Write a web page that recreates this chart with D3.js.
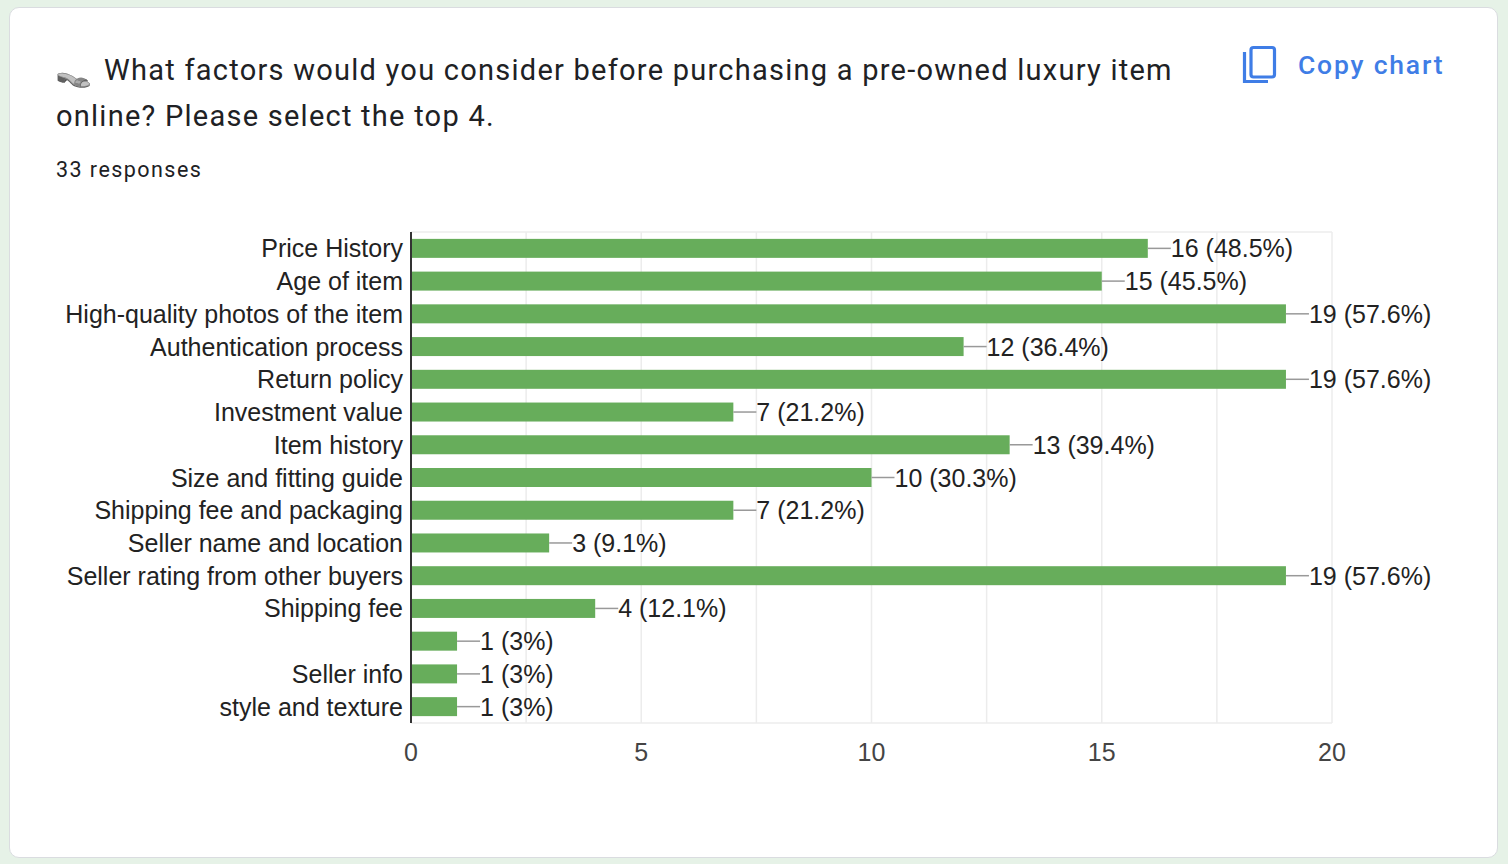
<!DOCTYPE html>
<html lang="en">
<head>
  <meta charset="UTF-8">
  <title>Pre-owned luxury purchase factors</title>
  <script src="https://d3js.org/d3.v7.min.js"></script>
  <style>
    * { padding: 0; margin: 0; box-sizing: border-box; }
    body { background: #e6f2e7; width: 1508px; height: 864px; overflow: hidden; }
    #card {
      position: absolute; left: 9px; top: 7px; width: 1489px; height: 851px;
      background: #fff; border: 1px solid #dadce0; border-radius: 10px;
    }
    #chart { position: absolute; left: 0; top: 0; }
  </style>
</head>
<body>
  <div id="card"></div>
  <svg id="chart" width="1508" height="864"></svg>
  <script>
    const categories = [
      "Price History", "Age of item", "High-quality photos of the item", "Authentication process",
      "Return policy", "Investment value", "Item history", "Size and fitting guide",
      "Shipping fee and packaging", "Seller name and location", "Seller rating from other buyers",
      "Shipping fee", "", "Seller info", "style and texture"
    ];
    const counts = [16, 15, 19, 12, 19, 7, 13, 10, 7, 3, 19, 4, 1, 1, 1];
    const percents = ["48.5%", "45.5%", "57.6%", "36.4%", "57.6%", "21.2%", "39.4%", "30.3%",
      "21.2%", "9.1%", "57.6%", "12.1%", "3%", "3%", "3%"];
    const xTicks = [0, 5, 10, 15, 20];
    const gridTicks = [2.5, 5, 7.5, 10, 12.5, 15, 17.5, 20];

    const svg = d3.select("#chart");
    const plotL = 411, plotR = 1332, plotT = 232, plotB = 723;
    const x = d3.scaleLinear().domain([0, 20]).range([plotL, plotR]);
    const y = d3.scaleBand().domain(d3.range(categories.length)).range([plotT, plotB]).paddingInner(0.42).paddingOuter(0.21);

    // header
    const head = svg.append("g").attr("font-family", "Roboto, 'Noto Sans', sans-serif");
    head.append("text").attr("x", 55).attr("y", 82).attr("font-size", 30).attr("fill", "#202124")
      .style("filter", "grayscale(1) contrast(0.8)").text("👡");
    head.append("text").attr("x", 104).attr("y", 80).attr("font-size", 29).attr("fill", "#202124")
      .attr("letter-spacing", 1.25)
      .text("What factors would you consider before purchasing a pre-owned luxury item");
    head.append("text").attr("x", 56).attr("y", 126).attr("font-size", 29).attr("fill", "#202124")
      .attr("letter-spacing", 1.25)
      .text("online? Please select the top 4.");
    head.append("text").attr("x", 56).attr("y", 177).attr("font-size", 21.5).attr("fill", "#202124")
      .attr("letter-spacing", 1.45).text("33 responses");

    // copy chart button
    const copy = svg.append("g").attr("fill", "none").attr("stroke", "#3f7de6").attr("stroke-width", 3.2);
    copy.append("path").attr("d", "M1244.5,52 V81.5 H1268");
    copy.append("rect").attr("x", 1251).attr("y", 47.5).attr("width", 23.5).attr("height", 29.5).attr("rx", 2.5);
    svg.append("text").attr("x", 1298).attr("y", 74).attr("font-family", "Roboto, sans-serif")
      .attr("font-size", 26.5).attr("font-weight", 500).attr("fill", "#3f7de6").attr("letter-spacing", 1.8)
      .text("Copy chart");

    // grid
    svg.append("g").selectAll("line").data(gridTicks).join("line")
      .attr("x1", d => x(d)).attr("x2", d => x(d)).attr("y1", plotT).attr("y2", plotB)
      .attr("stroke", "#ececec").attr("stroke-width", 1.5);
    svg.append("line").attr("x1", plotL).attr("x2", plotR).attr("y1", plotT).attr("y2", plotT)
      .attr("stroke", "#ececec").attr("stroke-width", 1.5);
    svg.append("line").attr("x1", plotL).attr("x2", plotR).attr("y1", plotB).attr("y2", plotB)
      .attr("stroke", "#ececec").attr("stroke-width", 1.5);

    // bars
    svg.append("g").selectAll("rect").data(counts).join("rect")
      .attr("x", x(0)).attr("y", (d, i) => y(i))
      .attr("width", d => x(d) - x(0)).attr("height", y.bandwidth())
      .attr("fill", "#67ad5b");

    // connectors + value labels
    const lab = svg.append("g").attr("font-family", "Arial, 'Liberation Sans', sans-serif").attr("font-size", 25).attr("fill", "#222");
    lab.selectAll("line").data(counts).join("line")
      .attr("x1", d => x(d)).attr("x2", d => x(d) + 23)
      .attr("y1", (d, i) => y(i) + y.bandwidth() / 2).attr("y2", (d, i) => y(i) + y.bandwidth() / 2)
      .attr("stroke", "#999").attr("stroke-width", 1.5);
    lab.selectAll("text").data(counts).join("text")
      .attr("x", d => x(d) + 23).attr("y", (d, i) => y(i) + y.bandwidth() / 2)
      .attr("dy", "0.36em")
      .text((d, i) => `${d} (${percents[i]})`);

    // category labels
    svg.append("g").attr("font-family", "Arial, 'Liberation Sans', sans-serif").attr("font-size", 25).attr("fill", "#222")
      .attr("text-anchor", "end")
      .selectAll("text").data(categories).join("text")
      .attr("x", plotL - 8).attr("y", (d, i) => y(i) + y.bandwidth() / 2).attr("dy", "0.36em")
      .text(d => d);

    // axis line
    svg.append("line").attr("x1", plotL).attr("x2", plotL).attr("y1", plotT).attr("y2", plotB)
      .attr("stroke", "#333").attr("stroke-width", 2);

    // x ticks
    svg.append("g").attr("font-family", "Arial, 'Liberation Sans', sans-serif").attr("font-size", 25).attr("fill", "#444")
      .attr("text-anchor", "middle")
      .selectAll("text").data(xTicks).join("text")
      .attr("x", d => x(d)).attr("y", 761).text(d => d);
  </script>
</body>
</html>
